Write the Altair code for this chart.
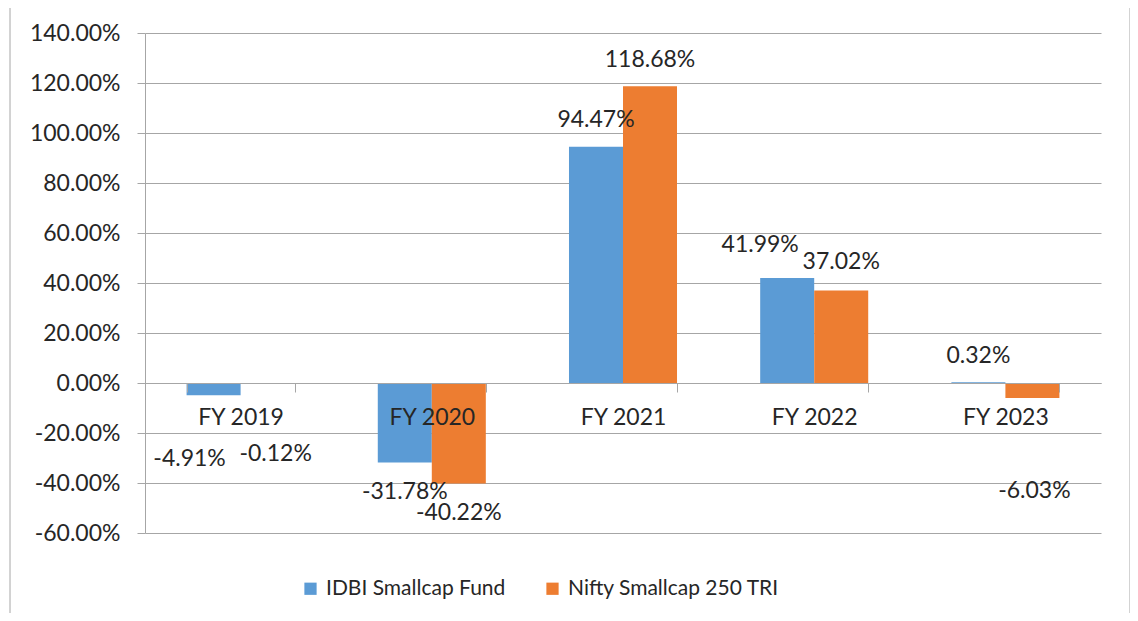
import altair as alt
import pandas as pd

# ---- data ----
years = ["FY 2019", "FY 2020", "FY 2021", "FY 2022", "FY 2023"]
fund = [-4.91, -31.78, 94.47, 41.99, 0.32]          # IDBI Smallcap Fund (%)
bench = [-0.12, -40.22, 118.68, 37.02, -6.03]       # Nifty Smallcap 250 TRI (%)
series_names = ["IDBI Smallcap Fund", "Nifty Smallcap 250 TRI"]
y_ticks = [-0.6, -0.4, -0.2, 0.0, 0.2, 0.4, 0.6, 0.8, 1.0, 1.2, 1.4]

# ---- styles ----
colors = ["#5b9bd5", "#ed7d31"]
FONT = "Lato"
FS = 23
TXT = "#262626"
GRID = "#a6a6a6"
# manual label nudges (px) relative to the bar end, as in the reference
fund_nudge = [(-24, 64), (0, 30), (0, -27), (-27, -33), (0, -26)]
bench_nudge = [(8, 71), (0, 29), (0, -26), (0, -28), (2, 93)]

rows = []
for i, yr in enumerate(years):
    for s, vals, nud in ((series_names[0], fund, fund_nudge), (series_names[1], bench, bench_nudge)):
        v = vals[i]
        rows.append({"year": yr, "series": s, "value": v / 100.0,
                     "label": f"{v:.2f}%", "key": f"{yr}|{s}",
                     "dx": nud[i][0], "dy": nud[i][1]})
df = pd.DataFrame(rows)

x_enc = alt.X("year:N", sort=years,
              scale=alt.Scale(paddingInner=0.435, paddingOuter=0.2175),
              axis=alt.Axis(title=None, offset=-150, labelAngle=0, tickBand="extent",
                            tickSize=9, domainColor=GRID, tickColor=GRID, grid=False,
                            labelFont=FONT, labelFontSize=FS, labelColor=TXT,
                            labelPadding=14, zindex=1))
xo_enc = alt.XOffset("series:N", sort=series_names,
                     scale=alt.Scale(paddingInner=0, paddingOuter=0))
y_enc = alt.Y("value:Q",
              scale=alt.Scale(domain=[-0.6, 1.4], nice=False, zero=False),
              axis=alt.Axis(title=None, values=y_ticks,
                            labelExpr="replace(format(datum.value, '.2%'), '\u2212', '-')",
                            grid=True, gridColor=GRID, gridWidth=1,
                            domainColor=GRID, tickColor=GRID, tickSize=8,
                            labelPadding=17, labelFont=FONT, labelFontSize=FS,
                            labelColor=TXT))

base = alt.Chart(df)

bars = base.mark_bar().encode(
    x=x_enc, xOffset=xo_enc, y=y_enc,
    color=alt.Color("series:N",
                    scale=alt.Scale(domain=series_names, range=colors),
                    legend=alt.Legend(orient="none", legendX=155, legendY=545,
                                      direction="horizontal", title=None,
                                      symbolType="square", symbolSize=150,
                                      symbolStrokeWidth=0, labelLimit=0,
                                      labelFont=FONT, labelFontSize=21,
                                      labelColor=TXT, columnPadding=36,
                                      labelOffset=5, padding=0))
)

texts = []
for r in rows:
    texts.append(
        base.transform_filter(alt.datum.key == r["key"]).mark_text(
            dx=r["dx"], dy=r["dy"], font=FONT, fontSize=FS, color=TXT,
            align="center", baseline="middle"
        ).encode(x=alt.X("year:N", sort=years), xOffset=alt.XOffset("series:N", sort=series_names),
                 y=alt.Y("value:Q"), text="label:N")
    )

border = alt.Chart(pd.DataFrame({"a": [0]})).mark_rect(
    fillOpacity=0, stroke=GRID, strokeWidth=1
).encode(x=alt.value(-135), x2=alt.value(985), y=alt.value(-28), y2=alt.value(640))

chart = alt.layer(bars, *texts, border).properties(
    width=956, height=500,
    autosize=alt.AutoSizeParams(type="none"),
    padding={"left": 137, "top": 25, "right": 29, "bottom": 80},
    background="white",
).configure_view(stroke=None)

chart.save("out.html", embed_options={"renderer": "svg", "actions": False})
